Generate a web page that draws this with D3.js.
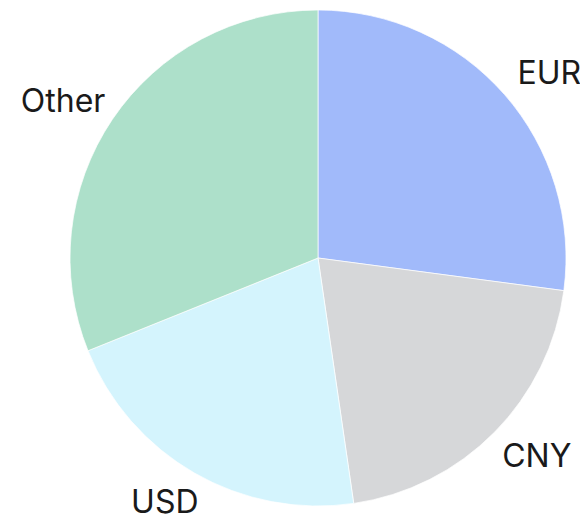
<!DOCTYPE html>
<html><head><meta charset="utf-8">
<script src="https://cdn.jsdelivr.net/npm/d3@7"></script>
<style>body{margin:0;background:#fff}svg{display:block}</style>
</head><body>
<svg id="c" width="580" height="517"></svg>
<script>
const categories = ["EUR", "CNY", "USD", "Other"];
const values = [27.1, 20.6, 21.2, 31.1];
const colors = ["#a1bafa", "#d6d7d9", "#d4f4fd", "#ade0ca"];

const svg = d3.select("#c");
const cx = 318, cy = 258, R = 248;
const g = svg.append("g").attr("transform", `translate(${cx},${cy})`);
const pie = d3.pie().sort(null).value(d => d.v);
const data = pie(categories.map((c, i) => ({c, v: values[i], col: colors[i]})));
const arc = d3.arc().innerRadius(0).outerRadius(R);
const rx = R * 1.24, ry = R * 1.133;
g.selectAll("path").data(data).join("path")
  .attr("d", arc).attr("fill", d => d.data.col)
  .attr("stroke", "#fff").attr("stroke-width", 0.7);
g.selectAll("text").data(data).join("text")
  .attr("transform", d => {
    const a = (d.startAngle + d.endAngle) / 2;
    return `translate(${rx * Math.sin(a)},${-ry * Math.cos(a)})`;
  })
  .attr("text-anchor", "middle").attr("dominant-baseline", "central")
  .attr("font-family", "Inter, sans-serif").attr("font-size", 32)
  .attr("fill", "#1a1a1a")
  .text(d => d.data.c);
</script>
</body></html>
